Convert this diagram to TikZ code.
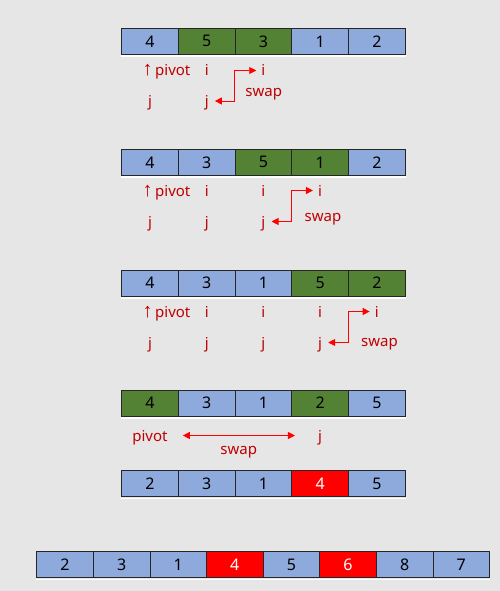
\documentclass[tikz,border=0pt]{standalone}
\usepackage{fontspec}
\setmainfont{Noto Sans}
\newfontfamily\arrowfont{Liberation Sans}
\usepackage{xcolor}
\usetikzlibrary{arrows.meta, calc}
\definecolor{bggray}{HTML}{E6E6E6}
\definecolor{cellblue}{HTML}{8EA9DB}
\definecolor{cellgreen}{HTML}{548235}
\definecolor{labelred}{HTML}{C00000}
\definecolor{arrowred}{HTML}{FF0000}

\begin{document}
\begin{tikzpicture}[x=1pt, y=-1pt,
  cell/.style={
    draw=black!85, line width=0.8pt, minimum width=56.7pt, minimum height=26pt,
    inner sep=0pt, fill=cellblue, font=\fontsize{16}{16}\selectfont
  },
  grn/.style={cell, fill=cellgreen},
  hot/.style={cell, fill=red, text=white},
  wide/.style={cell, minimum width=56.6pt},
  widehot/.style={hot, minimum width=56.6pt},
  lbl/.style={
    inner sep=0pt, text height=11pt, text depth=0pt, anchor=base,
    text=labelred, font=\fontsize{15}{15}\selectfont
  },
  swaparr/.style={{Triangle[length=7pt, width=7pt]}-{Triangle[length=7pt, width=7pt]},
    arrowred, line width=0.9pt},
  shade/.style={white, line width=1.5pt},
]
\fill[bggray] (0,0) rectangle (500,591);
\useasboundingbox (0,0) rectangle (500,591);
\newcommand{\uparr}{{\arrowfont\fontsize{20}{20}\selectfont ↑}}

%% ---- Pass 1 (top = 28.3) ----
\foreach \k/\v/\st in {1/4/cell, 2/5/grn, 3/3/grn, 4/1/cell, 5/2/cell}{
  \node[\st] (a\k) at ({121.7+56.7*(\k-0.5)}, 41.3) {\v};
}
\draw[shade] ([yshift=-1.5pt]a1.south west) -- ([yshift=-1.5pt]a5.south east);
\node[lbl, anchor=base west] (pv1) at (142.5,76) {\uparr\,pivot};
\node[lbl] (i12) at (206.7,76) {i};
\node[lbl] (i13) at (263.4,76) {i};
\node[lbl] (j11) at (150,106.5) {j};
\node[lbl] (j12) at (206.7,106.5) {j};
\node[lbl] (sw1) at (263.7,96.5) {swap};
\draw[swaparr] ([xshift=6pt]j12.east) -- ++(20,0) |- ([xshift=-5pt]i13.west);

%% ---- Pass 2 (top = 149.3) ----
\foreach \k/\v/\st in {1/4/cell, 2/3/cell, 3/5/grn, 4/1/grn, 5/2/cell}{
  \node[\st] (b\k) at ({121.7+56.7*(\k-0.5)}, 162.3) {\v};
}
\draw[shade] ([yshift=-1.5pt]b1.south west) -- ([yshift=-1.5pt]b5.south east);
\node[lbl, anchor=base west] (pv2) at (142.5,196) {\uparr\,pivot};
\node[lbl] (i22) at (206.7,196) {i};
\node[lbl] (i23) at (263.4,196) {i};
\node[lbl] (i24) at (320.1,196) {i};
\node[lbl] (j21) at (150,227) {j};
\node[lbl] (j22) at (206.7,227) {j};
\node[lbl] (j23) at (263.4,227) {j};
\node[lbl] (sw2) at (323,221.5) {swap};
\draw[swaparr] ([xshift=6pt]j23.east) -- ++(20,0) |- ([xshift=-5pt]i24.west);

%% ---- Pass 3 (top = 270) ----
\foreach \k/\v/\st in {1/4/cell, 2/3/cell, 3/1/cell, 4/5/grn, 5/2/grn}{
  \node[\st] (c\k) at ({121.7+56.7*(\k-0.5)}, 283) {\v};
}
\draw[shade] ([yshift=-1.5pt]c1.south west) -- ([yshift=-1.5pt]c5.south east);
\node[lbl, anchor=base west] (pv3) at (142.5,317) {\uparr\,pivot};
\node[lbl] (i32) at (206.7,317) {i};
\node[lbl] (i33) at (263.4,317) {i};
\node[lbl] (i34) at (320.1,317) {i};
\node[lbl] (i35) at (376.8,317) {i};
\node[lbl] (j31) at (150,348) {j};
\node[lbl] (j32) at (206.7,348) {j};
\node[lbl] (j33) at (263.4,348) {j};
\node[lbl] (j34) at (320.1,348) {j};
\node[lbl] (sw3) at (379.5,346) {swap};
\draw[swaparr] ([xshift=6pt]j34.east) -- ++(20,0) |- ([xshift=-5pt]i35.west);

%% ---- Pivot swap (top = 390) ----
\foreach \k/\v/\st in {1/4/grn, 2/3/cell, 3/1/cell, 4/2/grn, 5/5/cell}{
  \node[\st] (d\k) at ({121.7+56.7*(\k-0.5)}, 403) {\v};
}
\draw[shade] ([yshift=-1.5pt]d1.south west) -- ([yshift=-1.5pt]d5.south east);
\node[lbl] (pv4) at (150,441) {pivot};
\node[lbl] (j44) at (320.1,441) {j};
\node[lbl] (sw4) at (238.7,454) {swap};
\draw[swaparr] ([xshift=15pt]pv4.east) -- ([xshift=-23pt]j44.west);

%% ---- After pass (top = 470.7) ----
\foreach \k/\v/\st in {1/2/cell, 2/3/cell, 3/1/cell, 4/4/hot, 5/5/cell}{
  \node[\st] (e\k) at ({121.7+56.7*(\k-0.5)}, 483.7) {\v};
}
\draw[shade] ([yshift=-1.5pt]e1.south west) -- ([yshift=-1.5pt]e5.south east);

%% ---- Final array (top = 551.7) ----
\foreach \k/\v/\st in {1/2/wide, 2/3/wide, 3/1/wide, 4/4/widehot, 5/5/wide, 6/6/widehot, 7/8/wide, 8/7/wide}{
  \node[\st] (f\k) at ({36.7+56.6*(\k-0.5)}, 564.5) {\v};
}
\draw[shade] ([yshift=-1.5pt]f1.south west) -- ([yshift=-1.5pt]f8.south east);

\end{tikzpicture}
\end{document}
